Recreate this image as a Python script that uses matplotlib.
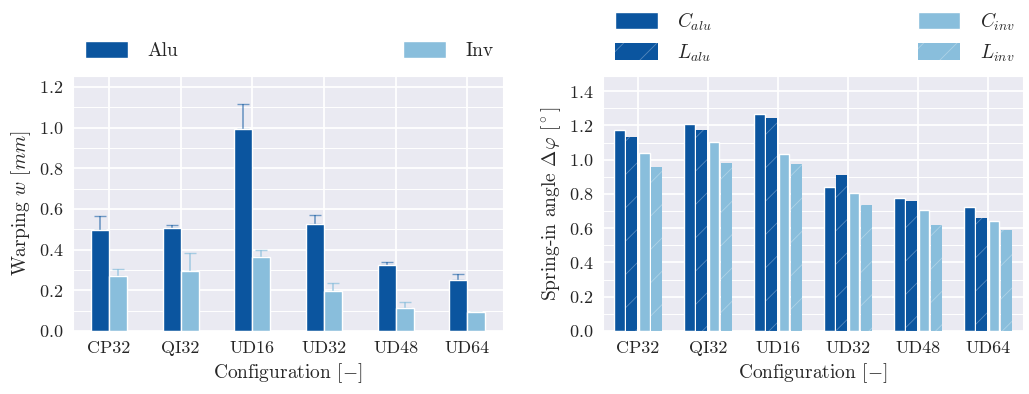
import numpy as np
import matplotlib
matplotlib.use('Agg')
import matplotlib.pyplot as plt
import seaborn as sns
from matplotlib.ticker import MultipleLocator

sns.set_style('darkgrid')
plt.rcParams['font.family'] = ['cmr10', 'DejaVu Serif']
plt.rcParams['mathtext.fontset'] = 'cm'
plt.rcParams['axes.formatter.use_mathtext'] = True
plt.rcParams['font.size'] = 14
plt.rcParams['axes.labelsize'] = 14
plt.rcParams['xtick.labelsize'] = 13
plt.rcParams['ytick.labelsize'] = 13
plt.rcParams['legend.fontsize'] = 14
plt.rcParams['hatch.linewidth'] = 0.6

configs = ['CP32', 'QI32', 'UD16', 'UD32', 'UD48', 'UD64']

# warping [mm], mean and upper error
warp_alu = [0.495, 0.505, 0.992, 0.528, 0.323, 0.250]
warp_alu_err = [0.072, 0.018, 0.123, 0.044, 0.016, 0.030]
warp_inv = [0.270, 0.293, 0.366, 0.195, 0.113, 0.095]
warp_inv_err = [0.037, 0.092, 0.031, 0.043, 0.031, 0.0]

# spring-in angle [deg]
c_alu = [1.174, 1.209, 1.266, 0.843, 0.776, 0.726]
l_alu = [1.133, 1.174, 1.242, 0.909, 0.757, 0.659]
c_inv = [1.038, 1.104, 1.032, 0.804, 0.704, 0.642]
l_inv = [0.956, 0.983, 0.973, 0.733, 0.620, 0.591]

dark = '#0b559f'
light = '#89bedc'

fig = plt.figure(figsize=(10.29, 3.94), dpi=100)
ax1 = fig.add_axes([0.071, 0.160, 0.418, 0.648])
ax2 = fig.add_axes([0.586, 0.160, 0.408, 0.646])

x = np.arange(len(configs))

# left: warping
w = 0.25
ax1.bar(x - w / 2, warp_alu, w, color=dark, label='Alu', zorder=2)
ax1.bar(x + w / 2, warp_inv, w, color=light, label='Inv', zorder=2)
ax1.errorbar(x - w / 2, warp_alu, yerr=[np.zeros(6), warp_alu_err], fmt='none',
             ecolor=dark, alpha=0.55, capsize=4, elinewidth=1.2, zorder=1)
ax1.errorbar(x + w / 2, warp_inv, yerr=[np.zeros(6), warp_inv_err], fmt='none',
             ecolor=light, alpha=0.7, capsize=4, elinewidth=1.2, zorder=1)
ax1.set_xlim(-0.5, 5.5)
ax1.set_ylim(0, 1.255)
ax1.set_ylabel(r'Warping $w$ $[mm]$')
ax1.set_xlabel(r'Configuration $[-]$')
ax1.legend(loc='lower left', bbox_to_anchor=(0.01, 1.03, 0.985, 0.12), mode='expand',
           ncol=2, frameon=False, borderaxespad=0, handlelength=2.2, handleheight=1.0,
           handletextpad=1.0)

# right: spring-in
s = 0.175
bw = 0.155
ax2.bar(x - 1.5 * s, c_alu, bw, color=dark, label=r'$C_{alu}$', zorder=2)
ax2.bar(x - 0.5 * s, l_alu, bw, color=dark, label=r'$L_{alu}$', hatch='/',
        edgecolor=(1, 1, 1, 0.3), linewidth=0, zorder=2)
ax2.bar(x + 0.5 * s, c_inv, bw, color=light, label=r'$C_{inv}$', zorder=2)
ax2.bar(x + 1.5 * s, l_inv, bw, color=light, label=r'$L_{inv}$', hatch='/',
        edgecolor=(1, 1, 1, 0.3), linewidth=0, zorder=2)
ax2.set_xlim(-0.5, 5.5)
ax2.set_ylim(0, 1.486)
ax2.set_ylabel(r'Spring-in angle $\Delta\varphi$ $[^\circ]$')
ax2.set_xlabel(r'Configuration $[-]$')
ax2.legend(loc='lower left', bbox_to_anchor=(0.01, 1.02, 0.99, 0.3), mode='expand',
           ncol=2, frameon=False, borderaxespad=0, handlelength=2.2, handleheight=1.0,
           handletextpad=1.0, labelspacing=0.5)

for ax in (ax1, ax2):
    ax.set_xticks(x)
    ax.set_xticklabels(configs)
    ax.yaxis.set_major_locator(MultipleLocator(0.2))
    ax.yaxis.set_minor_locator(MultipleLocator(0.1))
    ax.grid(which='major', color='white', linewidth=1.3)
    ax.grid(which='minor', axis='y', color='white', linewidth=0.7)
    ax.tick_params(axis='both', which='both', length=0, pad=7)

fig.savefig('out.png', dpi=100)
